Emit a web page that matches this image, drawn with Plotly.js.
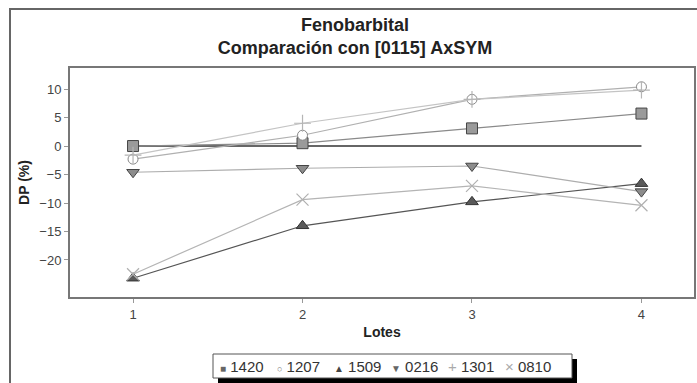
<!DOCTYPE html>
<html>
<head>
<meta charset="utf-8">
<script src="https://cdn.plot.ly/plotly-3.0.1.min.js"></script>
<style>html,body{margin:0;padding:0;background:#fff;}#chart{width:697px;height:383px;}</style>
</head>
<body>
<div id="chart"></div>
<script>
const lotes = [1, 2, 3, 4];
const tickLabels = ['1', '2', '3', '4'];
const refLine = [0, 0, 0, 0];
const s1420 = [0, 0.5, 3.1, 5.7];
const s1207 = [-2.3, 1.9, 8.2, 10.4];
const s1509 = [-23.2, -14.0, -9.8, -6.6];
const s0216 = [-4.6, -3.9, -3.5, -8.0];
const s1301 = [-1.6, 4.0, 8.2, 9.8];
const s0810 = [-22.5, -9.4, -7.0, -10.4];
const seriesNames = ['1420', '1207', '1509', '0216', '1301', '0810'];
const yTicks = [-20, -15, -10, -5, 0, 5, 10];

const styles = [
  {line: '#8a8a8a', symbol: 'square', fill: '#9a9a9a', edge: '#444', size: 11, glyph: '■', gcolor: '#666', gsize: 10},
  {line: '#b0b0b0', symbol: 'circle', fill: '#ffffff', edge: '#888', size: 10, glyph: '○', gcolor: '#777', gsize: 9},
  {line: '#555555', symbol: 'triangle-up', fill: '#5a5a5a', edge: '#333', size: 11, glyph: '▲', gcolor: '#444', gsize: 10},
  {line: '#adadad', symbol: 'triangle-down', fill: '#8c8c8c', edge: '#444', size: 11, glyph: '▼', gcolor: '#666', gsize: 10},
  {line: '#c4c4c4', symbol: 'cross-thin-open', fill: '#b5b5b5', edge: '#b5b5b5', size: 12, glyph: '+', gcolor: '#aaa', gsize: 15},
  {line: '#b4b4b4', symbol: 'x-thin-open', fill: '#b0b0b0', edge: '#b0b0b0', size: 12, glyph: '×', gcolor: '#aaa', gsize: 15}
];
const values = [s1420, s1207, s1509, s0216, s1301, s0810];

const traces = [{
  x: lotes, y: refLine, mode: 'lines', showlegend: false, hoverinfo: 'skip',
  line: {color: '#333', width: 1.6}
}];
values.forEach((v, i) => {
  const st = styles[i];
  const thin = st.symbol.indexOf('thin') >= 0;
  traces.push({
    x: lotes, y: v, name: seriesNames[i], mode: 'lines+markers', showlegend: false,
    line: {color: st.line, width: 1.2},
    marker: {symbol: st.symbol, size: st.size, color: st.fill,
             line: {color: st.edge, width: thin ? 1.2 : 1}}
  });
});

const L = 70, R = 694, T = 68, B = 297;
const W = R - L, H = B - T;
const px = x => (x - L) / W;
const py = y => (B - y) / H;

// legend (compact, symbol + label, boxed with drop shadow as in the original)
const legStart = 218, legStep = 57;
const annotations = seriesNames.map((name, i) => {
  const st = styles[i];
  return {
    xref: 'paper', yref: 'paper', x: px(legStart + i * legStep), y: py(366.5),
    xanchor: 'left', yanchor: 'middle', showarrow: false,
    text: '<span style="color:' + st.gcolor + ';font-size:' + st.gsize + 'px">' + st.glyph + '</span> ' + name,
    font: {family: 'Liberation Sans, Arial, sans-serif', size: 15, color: '#333'}
  };
});

const layout = {
  width: 697, height: 383,
  margin: {l: L, r: 697 - R, t: T, b: 383 - B},
  paper_bgcolor: '#fff', plot_bgcolor: '#fff',
  font: {family: 'Liberation Sans, Arial, sans-serif', color: '#333', size: 12},
  title: {
    text: '<b>Fenobarbital</b><br><b>Comparación con [0115] AxSYM</b>',
    font: {family: 'Liberation Sans, Arial, sans-serif', size: 18, color: '#222'},
    x: 355 / 697, xref: 'container', xanchor: 'center',
    y: 1 - 31 / 383, yref: 'container', yanchor: 'top'
  },
  xaxis: {
    range: [0.628, 4.31], tickvals: lotes, ticktext: tickLabels,
    showgrid: false, zeroline: false, showline: true, mirror: true,
    linecolor: '#777', linewidth: 2, ticks: 'outside', ticklen: 4, tickcolor: '#999',
    tickfont: {size: 13, color: '#444'},
    title: {text: '<b>Lotes</b>', font: {size: 14, color: '#222'}, standoff: 7}
  },
  yaxis: {
    range: [-26.5, 13.7], tickvals: yTicks,
    showgrid: false, zeroline: false, showline: true, mirror: true,
    linecolor: '#777', linewidth: 2, ticks: 'outside', ticklen: 4, tickcolor: '#999',
    tickfont: {size: 13, color: '#444'},
    title: {text: '<b>DP (%)</b>', font: {size: 14, color: '#222'}, standoff: 6}
  },
  showlegend: false,
  annotations: annotations,
  shapes: [
    {type: 'rect', xref: 'paper', yref: 'paper', x0: px(10), x1: px(720), y0: py(400), y1: py(9),
     line: {color: '#666', width: 2}, fillcolor: 'rgba(0,0,0,0)', layer: 'below'},
    {type: 'rect', xref: 'paper', yref: 'paper', x0: px(218), x1: px(577), y0: py(383), y1: py(359),
     line: {width: 0}, fillcolor: '#000', layer: 'above'},
    {type: 'rect', xref: 'paper', yref: 'paper', x0: px(213), x1: px(572), y0: py(378), y1: py(354),
     line: {width: 1, color: '#555'}, fillcolor: '#fff', layer: 'above'}
  ]
};

Plotly.newPlot('chart', traces, layout, {displayModeBar: false, staticPlot: true});
</script>
</body>
</html>
